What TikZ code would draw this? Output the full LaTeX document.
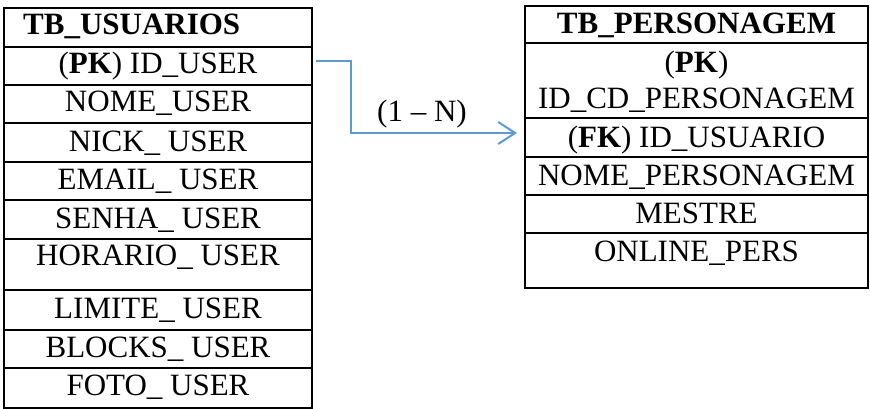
\documentclass[tikz,border=0pt]{standalone}
\usepackage{fontspec}
\setmainfont{Liberation Serif}
\usetikzlibrary{arrows.meta}
\definecolor{linkblue}{HTML}{5B9BD5}
\begin{document}
\begin{tikzpicture}[x=1pt,y=-1pt,
  cell/.style={draw=black,line width=2pt,inner sep=0pt,outer sep=0pt,anchor=north west},
  txt/.style={inner sep=0pt,anchor=base,font=\fontsize{31}{35}\selectfont},
  link/.style={draw=linkblue,line width=2pt,-{Straight Barb[length=17pt,width=22pt,line width=2pt]}}]
\useasboundingbox (0,0) rectangle (870,409);
% TB_USUARIOS rows
\node[cell,minimum width=308pt,minimum height=39pt] (u1) at (4,8) {};
\node[cell,minimum width=308pt,minimum height=38pt] (u2) at (4,47) {};
\node[cell,minimum width=308pt,minimum height=38pt] (u3) at (4,85) {};
\node[cell,minimum width=308pt,minimum height=39pt] (u4) at (4,123) {};
\node[cell,minimum width=308pt,minimum height=38pt] (u5) at (4,162) {};
\node[cell,minimum width=308pt,minimum height=39pt] (u6) at (4,200) {};
\node[cell,minimum width=308pt,minimum height=51pt] (u7) at (4,239) {};
\node[cell,minimum width=308pt,minimum height=40pt] (u8) at (4,290) {};
\node[cell,minimum width=308pt,minimum height=38pt] (u9) at (4,330) {};
\node[cell,minimum width=308pt,minimum height=40pt] (u10) at (4,368) {};
\node[txt,anchor=base west] (tu1) at (23,35) {\textbf{TB\_USUARIOS}};
\node[txt] (tu2) at (158,74) {(\textbf{PK}) ID\_USER};
\node[txt] (tu3) at (158,112) {NOME\_USER};
\node[txt] (tu4) at (158,151) {NICK\_ USER};
\node[txt] (tu5) at (158,189) {EMAIL\_ USER};
\node[txt] (tu6) at (158,228) {SENHA\_ USER};
\node[txt] (tu7) at (158,265) {HORARIO\_ USER};
\node[txt] (tu8) at (158,318) {LIMITE\_ USER};
\node[txt] (tu9) at (158,357) {BLOCKS\_ USER};
\node[txt] (tu10) at (158,395) {FOTO\_ USER};
% TB_PERSONAGEM rows
\node[cell,minimum width=343pt,minimum height=37pt] (p1) at (525,6) {};
\node[cell,minimum width=343pt,minimum height=75pt] (p2) at (525,43) {};
\node[cell,minimum width=343pt,minimum height=39pt] (p3) at (525,118) {};
\node[cell,minimum width=343pt,minimum height=38pt] (p4) at (525,157) {};
\node[cell,minimum width=343pt,minimum height=38pt] (p5) at (525,195) {};
\node[cell,minimum width=343pt,minimum height=55pt] (p6) at (525,233) {};
\node[txt] (tp1) at (696.5,34) {\textbf{TB\_PERSONAGEM}};
\node[txt] (tp2a) at (696.5,73) {(\textbf{PK})};
\node[txt] (tp2b) at (696.5,109) {ID\_CD\_PERSONAGEM};
\node[txt] (tp3) at (696.5,147) {(\textbf{FK}) ID\_USUARIO};
\node[txt] (tp4) at (696.5,185) {NOME\_PERSONAGEM};
\node[txt] (tp5) at (696.5,223) {MESTRE};
\node[txt] (tp6) at (696.5,261) {ONLINE\_PERS};
% relation
\node[txt] (rel) at (422,122) {(1 – N)};
\draw[link] ([xshift=4pt,yshift=5pt]u2.east) -- ++(35,0) |- ([xshift=-8pt,yshift=4.5pt]p3.west);
\end{tikzpicture}
\end{document}
